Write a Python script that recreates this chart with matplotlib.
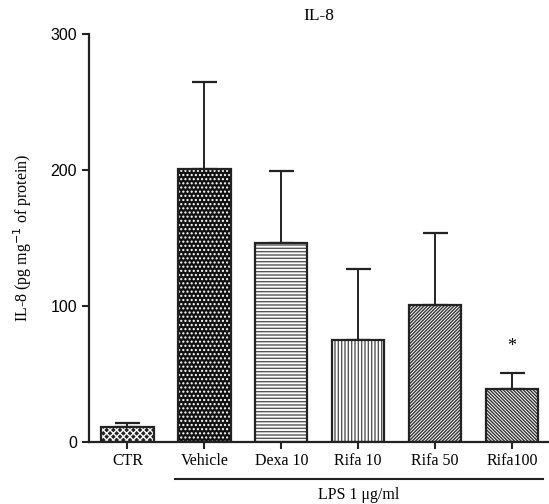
import matplotlib.pyplot as plt
import numpy as np

plt.rcParams['hatch.linewidth'] = 1.0

groups = ['CTR', 'Vehicle', 'Dexa 10', 'Rifa 10', 'Rifa 50', 'Rifa100']
means = [11, 201, 146, 75, 101, 39]
errs = [3, 64, 53, 52, 53, 12]
hatches = ['xxxxx', '....', '-----', '|||||', '//////////', '\\\\\\\\\\\\\\\\\\\\']
faces = ['#222222', '#111111', 'white', 'white', 'white', 'white']
hcols = ['white', 'white', '#555555', '#555555', '#333333', '#333333']
star_idx = 5
star_y = 70

serif = ['Liberation Serif', 'DejaVu Serif']
sans = ['Liberation Sans', 'DejaVu Sans']

fig = plt.figure(figsize=(5.49, 5.04), dpi=100)
ax = fig.add_axes([89/549, 62/504, 460/549, 408/504])

x = np.arange(len(groups))
w = 0.68

# fill + hatch first, outline on top
for i in range(len(groups)):
    ax.bar(x[i], means[i], w, color=faces[i], edgecolor=hcols[i], hatch=hatches[i], linewidth=0, zorder=2)
ax.bar(x, means, w, color='none', edgecolor='#222222', linewidth=1.6, zorder=3)
ax.errorbar(x, means, yerr=[np.zeros(len(errs)), errs], fmt='none', ecolor='#222222',
            elinewidth=1.4, capsize=9, capthick=1.6, zorder=1)

ax.text(x[star_idx], star_y, '*', ha='center', va='center', fontsize=13, family=serif)

ax.set_xlim(-0.5, 5.48)
ax.set_ylim(0, 300)
ax.set_yticks([0, 100, 200, 300])
ax.set_xticks(x)
ax.set_xticklabels(groups, family=serif, fontsize=11.5)
for lab in ax.get_yticklabels():
    lab.set_family(sans)
    lab.set_fontsize(11.5)
ax.tick_params(axis='both', direction='out', length=5, width=1.5, color='#222222')
ax.tick_params(axis='x', pad=3)
for s in ['top', 'right']:
    ax.spines[s].set_visible(False)
for s in ['left', 'bottom']:
    ax.spines[s].set_linewidth(1.6)
    ax.spines[s].set_color('#222222')

ax.set_ylabel('IL-8 (pg mg$^{-1}$ of protein)', family=serif, fontsize=11.5, labelpad=12)
ax.set_title('IL-8', family=serif, fontsize=12.5, pad=10, x=0.5)

# LPS bracket under the stimulated groups
ax.plot([0.62, 5.4], [-27, -27], color='#222222', lw=1.5, clip_on=False)
ax.text(3.01, -39, 'LPS 1 \u03bcg/ml', ha='center', va='center', family=serif, fontsize=11.5)

fig.savefig('out.png', dpi=100)
